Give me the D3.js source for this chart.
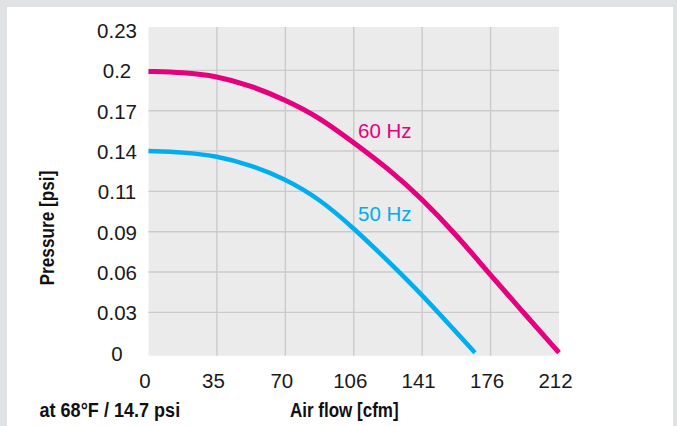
<!DOCTYPE html>
<html>
<head>
<meta charset="utf-8">
<script src="https://cdn.jsdelivr.net/npm/d3@7"></script>
<style>
  html, body { margin: 0; padding: 0; background: #e1e2e4; }
  svg { display: block; }
</style>
</head>
<body>
<svg id="chart" width="677" height="426"></svg>
<script>
// ---- data ----
const xTickValues = [0, 35.33, 70.67, 106, 141.33, 176.67, 212];
const xTickLabels = ["0", "35", "70", "106", "141", "176", "212"];
const yTickValues = [0, 0.02875, 0.0575, 0.08625, 0.115, 0.14375, 0.1725, 0.20125, 0.23];
const yTickLabels = ["0", "0.03", "0.06", "0.09", "0.11", "0.14", "0.17", "0.2", "0.23"];

const flow60 = [0, 18, 35, 53, 70, 88, 106, 124, 141, 159, 176, 194, 212];
const pres60 = [0.2005, 0.1998, 0.1972, 0.1903, 0.1806, 0.1680, 0.1497, 0.1310, 0.1100, 0.0840, 0.0563, 0.0281, 0];
const flow50 = [0, 18, 35, 53, 70, 88, 106, 124, 141, 159, 168.6];
const pres50 = [0.1437, 0.1429, 0.1403, 0.1337, 0.1242, 0.1100, 0.0888, 0.0650, 0.0417, 0.0145, 0];

const seriesNames = ["60 Hz", "50 Hz"];
const seriesColors = ["#e5007d", "#00aeef"];

// ---- layout ----
const svg = d3.select("#chart");
const panel = {x: 7, y: 7, w: 666, h: 419};
const plot = {left: 148.5, right: 559, top: 30, bottom: 352.7};

svg.append("rect").attr("x", panel.x).attr("y", panel.y)
  .attr("width", panel.w).attr("height", panel.h).attr("fill", "#ffffff");

const x = d3.scaleLinear().domain([0, 212]).range([plot.left, plot.right]);
const y = d3.scaleLinear().domain([0, 0.23]).range([plot.bottom, plot.top]);

// plot background
svg.append("rect")
  .attr("x", plot.left).attr("y", plot.top - 3)
  .attr("width", plot.right - plot.left).attr("height", plot.bottom - plot.top + 6)
  .attr("fill", "#ebebeb");

// grid
const grid = svg.append("g");
grid.selectAll("line.h").data(yTickValues.slice(1, -1)).join("line")
  .attr("x1", plot.left).attr("x2", plot.right)
  .attr("y1", d => y(d)).attr("y2", d => y(d))
  .attr("stroke", "#cbcbcb").attr("stroke-width", 1.4);
grid.selectAll("line.v").data(xTickValues.slice(1, -1)).join("line")
  .attr("y1", plot.top - 3).attr("y2", plot.bottom + 3)
  .attr("x1", d => x(d)).attr("x2", d => x(d))
  .attr("stroke", "#cbcbcb").attr("stroke-width", 1.4);

// axes (labels only)
const tickFont = "Liberation Sans, Arial, sans-serif";
const yAxis = d3.axisLeft(y).tickValues(yTickValues)
  .tickFormat((d, i) => yTickLabels[i]).tickSize(0);
const gy = svg.append("g").attr("transform", `translate(117,0)`).call(yAxis);
gy.select(".domain").remove();
gy.selectAll("text").attr("text-anchor", "middle").attr("x", 0)
  .attr("dy", 0).attr("dominant-baseline", "central")
  .attr("font-family", tickFont).attr("font-size", 20.5)
  .attr("fill", "#1a1a1a");

const xAxis = d3.axisBottom(x).tickValues(xTickValues)
  .tickFormat((d, i) => xTickLabels[i]).tickSize(0);
const gx = svg.append("g").attr("transform", `translate(-4,${plot.bottom + 28})`).call(xAxis);
gx.select(".domain").remove();
gx.selectAll("text").attr("dy", 0).attr("y", 0).attr("dominant-baseline", "central")
  .attr("font-family", tickFont).attr("font-size", 20.5)
  .attr("fill", "#1a1a1a");

// curves
const line = d3.line().x(d => x(d[0])).y(d => y(d[1])).curve(d3.curveBasis);
const data60 = flow60.map((f, i) => [f, pres60[i]]);
const data50 = flow50.map((f, i) => [f, pres50[i]]);
[data60, data50].forEach((d, i) => {
  svg.append("path").datum(d).attr("d", line)
    .attr("fill", "none").attr("stroke", seriesColors[i])
    .attr("stroke-width", i === 0 ? 5 : 4.5);
});

// series labels
svg.append("text").attr("x", 358).attr("y", 138.3).text(seriesNames[0])
  .attr("font-family", tickFont).attr("font-size", 20.5).attr("fill", seriesColors[0]);
svg.append("text").attr("x", 358).attr("y", 220.7).text(seriesNames[1])
  .attr("font-family", tickFont).attr("font-size", 20.5).attr("fill", seriesColors[1]);

// titles (condensed look)
const titleFont = "'Liberation Sans Narrow', 'Liberation Sans', Arial, sans-serif";
svg.append("text").attr("transform", "translate(54,228) rotate(-90) scale(0.82,1)")
  .attr("text-anchor", "middle").text("Pressure [psi]")
  .attr("font-family", titleFont).attr("font-weight", "bold").attr("font-size", 21).attr("fill", "#111");
svg.append("text").attr("transform", "translate(290,417) scale(0.81,1)").text("Air flow [cfm]")
  .attr("font-family", titleFont).attr("font-weight", "bold").attr("font-size", 21).attr("fill", "#111");
svg.append("text").attr("transform", "translate(39.5,417) scale(0.86,1)").text("at 68°F / 14.7 psi")
  .attr("font-family", titleFont).attr("font-weight", "bold").attr("font-size", 21).attr("fill", "#111");
</script>
</body>
</html>
